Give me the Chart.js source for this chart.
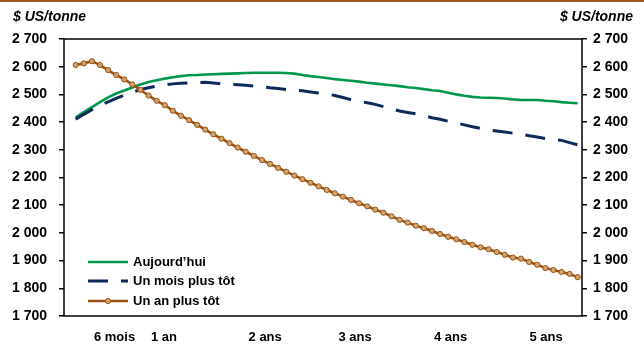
<!DOCTYPE html>
<html><head><meta charset="utf-8">
<script src="https://cdn.jsdelivr.net/npm/chart.js@4.4.0/dist/chart.umd.min.js"></script>
<style>html,body{margin:0;padding:0;background:#fff;}#wrap{width:644px;height:345px;position:relative;}</style>
</head><body><div id="wrap"><canvas id="c" width="644" height="345"></canvas></div>
<script>
const unitLabel = "$ US/tonne";
const seriesNames = ["Aujourd’hui", "Un mois plus tôt", "Un an plus tôt"];
const xTickValues = [4.8, 10.9, 23.4, 34.5, 46.3, 58.1];
const xTickLabels = ["6 mois", "1 an", "2 ans", "3 ans", "4 ans", "5 ans"];
const yMin = 1700, yMax = 2700, yStep = 100;

const today = [2416,2436,2454,2472,2489,2503,2514,2525,2536,2545,2551,2557,2562,2566,2569,2570,2572,2573,2574,2575,2576,2577,2578,2578,2578,2578,2577,2575,2570,2566,2563,2559,2555,2552,2549,2546,2542,2539,2536,2533,2530,2526,2523,2519,2515,2512,2506,2500,2495,2491,2489,2488,2487,2485,2482,2480,2480,2480,2477,2475,2472,2470,2468];
const monthAgo = [2410,2428,2445,2460,2473,2486,2497,2507,2518,2524,2530,2534,2538,2540,2542,2543,2544,2541,2538,2536,2535,2533,2530,2528,2524,2521,2518,2515,2513,2509,2505,2502,2496,2489,2481,2475,2470,2464,2456,2448,2440,2435,2430,2423,2416,2410,2403,2397,2390,2383,2377,2372,2368,2364,2360,2356,2351,2346,2341,2338,2334,2326,2318];
const yearAgo = [2606,2612,2620,2606,2588,2570,2554,2536,2516,2496,2477,2461,2441,2423,2407,2390,2373,2356,2340,2324,2308,2293,2278,2263,2249,2235,2221,2207,2194,2181,2168,2155,2143,2131,2119,2107,2096,2084,2073,2060,2047,2037,2026,2017,2007,1996,1986,1977,1967,1957,1948,1941,1931,1921,1911,1907,1895,1885,1873,1866,1859,1852,1840];

const FONT = '"Liberation Sans", Arial, sans-serif';
const GREEN = '#00974c', NAVY = '#0c2a57', BROWN = '#9a5212', TAN = '#d3a36f';
const pts = arr => arr.map((v, i) => ({x: i, y: v}));
const fmt = v => String(v).replace(/\B(?=(\d{3})+(?!\d))/g, ' ');

const decor = {
  id: 'decor',
  afterDraw(chart) {
    const ctx = chart.ctx, a = chart.chartArea;
    ctx.save();
    ctx.fillStyle = '#9c5a1c';
    ctx.fillRect(0, 0, chart.width, 2);
    ctx.strokeStyle = '#000'; ctx.lineWidth = 1.5;
    ctx.strokeRect(a.left, a.top, a.right - a.left, a.bottom - a.top);
    ctx.fillStyle = '#000';
    ctx.font = 'italic bold 14px ' + FONT;
    ctx.textBaseline = 'alphabetic';
    ctx.textAlign = 'left'; ctx.fillText(unitLabel, 13, 21);
    ctx.textAlign = 'right'; ctx.fillText(unitLabel, 633, 21);
    const x0 = a.left + 24, x1 = a.left + 64, tx = a.left + 69;
    const rows = [a.bottom - 54, a.bottom - 35, a.bottom - 15];
    ctx.font = 'bold 13px ' + FONT;
    ctx.textAlign = 'left'; ctx.textBaseline = 'middle';
    chart.data.datasets.forEach((ds, i) => {
      const y = rows[i];
      ctx.beginPath();
      ctx.setLineDash(ds.borderDash || []);
      ctx.strokeStyle = ds.borderColor; ctx.lineWidth = ds.borderWidth;
      ctx.moveTo(x0, y); ctx.lineTo(x1, y); ctx.stroke();
      ctx.setLineDash([]);
      if (ds.pointRadius > 0) {
        ctx.beginPath();
        ctx.arc((x0 + x1) / 2, y, ds.pointRadius, 0, Math.PI * 2);
        ctx.fillStyle = ds.pointBackgroundColor; ctx.fill();
        ctx.lineWidth = ds.pointBorderWidth; ctx.strokeStyle = ds.pointBorderColor; ctx.stroke();
      }
      ctx.fillStyle = '#000';
      ctx.fillText(ds.label, tx, y);
    });
    ctx.restore();
  }
};

const yAxis = (pos, pad, w) => ({
  type: 'linear', position: pos, min: yMin, max: yMax,
  ticks: {stepSize: yStep, padding: pad, color: '#000', font: {family: FONT, size: 14, weight: 'bold'}, callback: v => fmt(v)},
  grid: {display: true, drawOnChartArea: false, drawTicks: true, tickLength: 5, color: '#000', lineWidth: 1.5},
  border: {display: false},
  afterFit: s => { s.width = w; }
});

new Chart(document.getElementById('c'), {
  type: 'line',
  data: {
    datasets: [
      {label: seriesNames[0], data: pts(today), borderColor: GREEN, borderWidth: 2.6, pointRadius: 0, order: 2, tension: 0},
      {label: seriesNames[1], data: pts(monthAgo), borderColor: NAVY, borderWidth: 3, borderDash: [20, 13], pointRadius: 0, order: 1, tension: 0},
      {label: seriesNames[2], data: pts(yearAgo), borderColor: BROWN, borderWidth: 2.6, pointRadius: 2.6, pointBackgroundColor: TAN, pointBorderColor: BROWN, pointBorderWidth: 1, order: 0, tension: 0}
    ]
  },
  options: {
    responsive: false, animation: false, devicePixelRatio: 1,
    layout: {padding: {top: 39, left: 0, right: 0, bottom: 0}},
    plugins: {legend: {display: false}, tooltip: {enabled: false}},
    scales: {
      x: {
        type: 'linear', position: 'bottom', min: -1.445, max: 62.53,
        afterBuildTicks: s => { s.ticks = xTickValues.map(v => ({value: v})); },
        ticks: {autoSkip: false, maxRotation: 0, padding: 14, color: '#000', font: {family: FONT, size: 13, weight: 'bold'},
          callback: (v, i) => xTickLabels[i]},
        grid: {display: true, drawOnChartArea: false, drawTicks: false},
        border: {display: false},
        afterFit: s => { s.height = 29; }
      },
      y: yAxis('left', 12, 64),
      y2: yAxis('right', 6, 62)
    }
  },
  plugins: [decor]
});
</script></body></html>
